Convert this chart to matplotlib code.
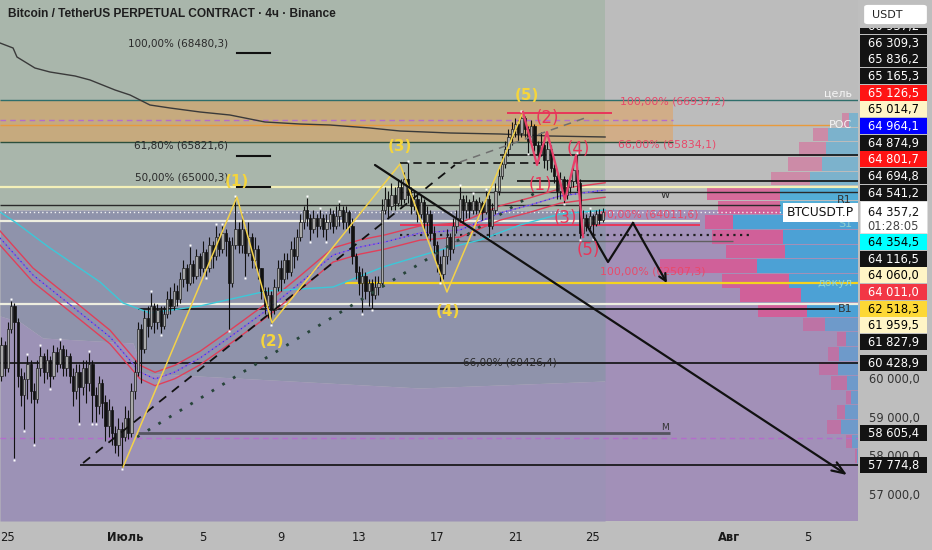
"""
BTCUSDT.P 4h chart: candles, wave count, levels, volume profile
"""
import matplotlib
matplotlib.use('Agg')
from matplotlib import pyplot as plt
from matplotlib.patches import Rectangle, FancyBboxPatch
import numpy as np

W, H = 932, 550

# ---- candles: 4h bars, time in days from 25 June 00:00, first bar 24 June 16:00
bar_start = -2
first_open = 60100
closes = [
    60900, 60300,
    61300, 61900, 61500, 60100, 59600, 60000,
    60400, 59700, 59500, 60300, 60600, 60200,
    60500, 60100, 60700, 60400, 60800, 60300,
    60600, 60100, 59700, 60200, 59800, 60300,
    59900, 60400, 59600, 59300, 59900, 59400,
    58800, 59200, 58600, 58300, 58700, 58500,
    59000, 58600, 59700, 60200, 61300, 60800,
    61600, 61400, 61900, 61500, 61800, 61400,
    61700, 62100, 61900, 62300, 62100, 62600,
    62900, 62500, 63000, 62700, 63200, 62900,
    63300, 62900, 63500, 63200, 63700, 63400,
    63800, 63600, 62500, 63500, 63900, 63500,
    63900, 63300, 63700, 63100, 63400, 62900,
    62300, 61900, 62200, 61800, 62400, 62900,
    62600, 63100, 62800, 63400, 63200, 63700,
    64100, 64400, 64200, 63900, 64200, 64000,
    64200, 63900, 64100, 64300, 64000, 64250,
    64400, 64100, 64350, 64000, 63200, 62800,
    62500, 62700, 62300, 62500, 62200, 62400,
    62500, 64400, 64700, 64500, 64800, 64600,
    65000, 64700, 65200, 64800, 64500, 64700,
    64300, 64600, 64100, 64300, 63800, 63500,
    63000, 62750, 63200, 63700, 63400, 64000,
    64200, 64700, 64400, 64600, 64400, 64650,
    64400, 64600, 64350, 64700, 64000, 64400,
    64900, 65300, 65600, 66000, 66300, 66500,
    66650, 66400, 66800, 66500, 66200, 66600,
    66100, 65850, 66100, 65700, 66000, 65500,
    65300, 64900, 65200, 64800, 65000, 65150,
    65450, 65100, 63800, 64200, 64000, 64250,
    64050, 64300, 64150, 64357.2,
]
highs = [
    61100, 61000,
    61500, 62050, 62000, 61600, 60300, 60200,
    60600, 60500, 59900, 60500, 60850, 60700,
    60800, 60600, 60900, 60850, 61000, 60900,
    60800, 60700, 60300, 60400, 60400, 60500,
    60500, 60700, 60500, 59800, 60100, 60000,
    59600, 59500, 59300, 58800, 59000, 58900,
    59300, 59200, 59900, 60500, 61500, 61450,
    61800, 61900, 62250, 62000, 61950, 61900,
    61900, 62300, 62400, 62500, 62450, 62800,
    63100, 63000, 63440, 63100, 63400, 63300,
    63600, 63400, 63700, 63600, 64000, 63800,
    64000, 63900, 63700, 63700, 64720, 64100,
    64300, 64000, 64100, 63800, 63700, 63500,
    62900, 62400, 62400, 62300, 62600, 63100,
    63100, 63300, 63300, 63600, 63700, 63900,
    64300, 64500, 64720, 64300, 64400, 64300,
    64400, 64300, 64300, 64450, 64400, 64500,
    64580, 64500, 64500, 64400, 64200, 63300,
    62950, 62900, 62800, 62600, 62600, 62700,
    62700, 64700, 65000, 64900, 65100, 65000,
    65200, 65200, 65400, 65630, 65000, 64900,
    64800, 64800, 64700, 64500, 64400, 64000,
    63600, 63200, 63400, 63900, 63800, 64200,
    64400, 65000, 64800, 64800, 64700, 64800,
    64700, 64750, 64650, 64900, 64800, 64600,
    65100, 65500, 65800, 66200, 66500, 66700,
    66800, 66750, 66937, 66850, 66600, 66750,
    66650, 66200, 66430, 66200, 66200, 66100,
    65600, 65400, 65400, 65300, 65200, 65300,
    65600, 65830, 65200, 64400, 64300, 64400,
    64300, 64400, 64420, 64450,
]
lows = [
    59950, 60100,
    60200, 61200, 57950, 59800, 59300, 58700,
    59500, 59400, 58350, 59400, 60100, 59900,
    60000, 59800, 60000, 60200, 60300, 60100,
    60100, 59900, 59300, 59500, 58900, 59600,
    59400, 59700, 58900, 58900, 59100, 59000,
    58400, 58500, 58300, 58100, 58000, 57720,
    58400, 58450, 58500, 59500, 60100, 59900,
    60700, 61100, 61300, 61200, 61300, 61200,
    61300, 61600, 61700, 61800, 61900, 62000,
    62400, 62300, 62450, 62500, 62600, 62700,
    62800, 62700, 62800, 62900, 63100, 63200,
    63300, 63200, 61300, 62400, 63400, 63300,
    63300, 62700, 63200, 62900, 62900, 62600,
    62100, 61700, 61600, 61460, 61700, 62300,
    62300, 62500, 62600, 62700, 62900, 63100,
    63600, 63900, 64000, 63620, 63800, 63700,
    63900, 63700, 63620, 63900, 63800, 63900,
    64000, 63900, 63900, 63800, 63000, 62600,
    62200, 61750, 62100, 61900, 61850, 62100,
    62200, 62400, 64300, 64200, 64400, 64400,
    64500, 64500, 64600, 64600, 64300, 64400,
    64100, 64200, 63900, 63700, 63600, 63300,
    62800, 62560, 62600, 63000, 63100, 63300,
    63800, 64100, 64100, 64200, 64200, 64300,
    64300, 64300, 64150, 64300, 63700, 63900,
    64300, 64800, 65200, 65500, 65800, 66100,
    66300, 66200, 66300, 66300, 65900, 66100,
    65950, 65700, 65800, 65500, 65450, 65400,
    65100, 64700, 64700, 64600, 64700, 64850,
    65000, 64900, 63680, 63700, 63850, 63900,
    63700, 64000, 64050, 64100,
]
current_price = 64357.2
countdown = '01:28:05'

# ---- indicator lines (t in days, price)
vwap_t = [-0.41, 0.26, 0.46, 1.38, 2.15, 3.44, 4.21, 4.72, 5.49, 6.26, 7.28, 8.31,
          9.85, 11.38, 13.18, 14.97, 16.51, 18.56, 20.10, 22.67, 25.23, 27.79, 30.62]
vwap_p = [68747, 68617, 68383, 68097, 67993, 67889, 67785, 67681, 67525, 67395, 67135, 67057,
          66953, 66875, 66693, 66641, 66615, 66537, 66459, 66407, 66381, 66329, 66303]
env_t = [-0.41, 1.28, 3.33, 5.23, 6.77, 7.54, 8.56, 9.85, 11.38, 13.28, 14.97, 16.67,
         18.05, 19.33, 21.13, 23.18, 25.23, 26.77, 28.31, 30.62]
env_mid = [63677, 62715, 61883, 61103, 60193, 60011, 60193, 60557, 61103, 61805, 62507, 63235,
           63443, 63573, 63807, 63885, 64327, 64535, 64769, 64925]
ENV_PCT = 0.0029
ema_t = [-0.41, 0.36, 2.15, 4.72, 5.90, 7.28, 9.85, 13.28, 16.67, 19.23, 22.15, 24.21,
         26.26, 28.31, 30.62]
ema_p = [64353, 64093, 63417, 62533, 61987, 61727, 61909, 62299, 62403, 62923, 63365, 63625,
         64015, 64301, 64405]

# ---- volume profile (row bottoms, sell / buy volume)
vp_row_low = [57830, 58210, 58590, 58970, 59350, 59730, 60110, 60490, 60870, 61250, 61630, 62010,
              62390, 62770, 63150, 63530, 63910, 64290, 64670, 65050, 65430, 65810, 66190, 66570]
vp_sell = [2, 6, 14, 8, 5, 16, 19, 11, 9, 22, 49, 61, 67, 97, 59, 71, 28, 62, 73, 39, 34, 27, 15, 7]
vp_buy = [1, 6, 17, 13, 7, 11, 20, 19, 12, 33, 51, 57, 69, 101, 73, 75, 125, 78, 78, 48, 36, 32, 30, 9]
VP_ROW = 378.5
VA_LOW, VA_HIGH = 61630, 64670

# ---- horizontal levels: price, start, end (days), style
level_price = [67265, 66173, 66745, 66615, 65000.3, 65834.1, 65627, 65165.3, 64874.9, 64541.2,
               64357.2, 64116.5, 64011.6, 63760, 63600, 62507.3, 61959.5, 61827.9, 60428.9,
               58605.4, 58477, 57774.8, 66937.2]
level_t0 = [-0.41, -0.41, -0.41, -0.41, -0.41, 25.23, 20.10, 26.10, 20.10, -0.41,
            -0.41, -0.41, 20.10, 20.10, 22.67, 17.28, -0.41, 6.67, -0.41,
            6.67, -0.41, 3.69, 25.59]
level_t1 = [43.59, 34.10, 34.10, 42.15, 43.59, 43.59, 27.28, 43.59, 43.59, 39.59,
            43.59, 35.49, 35.49, 38.05, 37.18, 43.59, 43.59, 42.41, 43.59,
            33.95, 43.59, 43.59, 30.97]
level_style = ['teal', 'green', 'purple_dash', 'orange', 'cream', 'black', 'black_dash', 'black',
               'dark', 'dark', 'white_dot', 'white', 'red', 'black_dot', 'gray', 'yellow', 'white',
               'black', 'black', 'gray_thick', 'purple_dash', 'black', 'red']
band_low, band_high, band_t1 = 66173, 67265, 34.10

fib_t = [11.74, 13.44]
fib_levels = [68480.3, 65821.6, 65000.3]
fib_texts = ['100,00% (68480,3)', '61,80% (65821,6)', '50,00% (65000,3)']
red_fib_prices = [66937.2, 65834.1, 64011.6, 62507.3]
red_fib_t = [31.38, 31.28, 30.0, 30.36]
red_fib_texts = ['100,00% (66937,2)', '66,00% (65834,1)', '100,00% (64011,6)', '100,00% (62507,3)']

# ---- drawings
wave_t = [5.90, 11.74, 13.54, 20.10, 22.51, 26.41]
wave_p = [57723, 64743, 61467, 65600, 62273, 66953]
wave_names = ['', '(1)', '(2)', '(3)', '(4)', '(5)']
sub_t = [26.41, 27.13, 27.64, 28.56, 29.13, 29.49]
sub_p = [66953, 65575, 66433, 64665, 65835, 63703]
sub_names = ['', '(1)', '(2)', '(3)', '(4)', '(5)']
trend_dash_t, trend_dash_p = [3.85, 22.92], [57827, 65575]
trend_gray_t, trend_gray_p = [23.18, 29.59], [65653, 66797]
trend_dot_t, trend_dot_p = [6.62, 27.28], [58503, 64925]
arrow_t, arrow_p = [18.82, 43.03], [65575, 57515]
proj_t = [29.74, 30.77, 32.05, 33.79]
proj_p = [63963, 63053, 64067, 62507]

# background zones
ZONE_SPLIT_T = 30.62
ZONE_TOP = 64400
boundary_t = [-0.41, 0.62, 1.79, 6.41, 6.92, 21.13, 30.62]
boundary_p = [61649, 61493, 61077, 60947, 60167, 59777, 59959]

# right axis labels
axis_label_prices = [66937.2, 66309.3, 65836.2, 65165.3, 65126.5, 65014.7, 64964.1, 64874.9,
                     64801.7, 64694.8, 64541.2, 64354.5, 64116.5, 64060.0, 64011.0, 62518.3,
                     61959.5, 61827.9, 60428.9, 58605.4, 57774.8]
axis_label_bg = ['#131313', '#131313', '#131313', '#131313', '#ff1414', '#fff5c6', '#0000ff',
                 '#131313', '#ff1414', '#131313', '#131313', '#00ffff', '#131313', '#fff5c6',
                 '#f23645', '#fdd835', '#fff5c6', '#131313', '#131313', '#131313', '#131313']
axis_ticks = [57000, 58000, 59000, 60000]

day_ticks = [0, 6, 10, 14, 18, 22, 26, 30, 37, 41]
day_labels = ['25', 'Июль', '5', '9', '13', '17', '21', '25', 'Авг', '5']

XLIM = (-0.41, 43.59)
YLIM = (56319, 69865)

STYLES = {
    'teal': dict(color='#2f6e6b', lw=1.0),
    'green': dict(color='#2c4f3c', lw=1.0),
    'purple_dash': dict(color='#b46ccc', lw=1.0, ls=(0, (4, 3))),
    'orange': dict(color='#e89a3c', lw=1.0),
    'cream': dict(color='#f4f0b8', lw=1.6),
    'black': dict(color='#101010', lw=1.2),
    'black_dash': dict(color='#101010', lw=1.2, ls=(0, (5, 3))),
    'dark': dict(color='#2a2a2a', lw=1.0),
    'white_dot': dict(color='#f2f2f2', lw=1.0, ls=(0, (1, 2))),
    'white': dict(color='#eeeee0', lw=1.6),
    'red': dict(color='#e8365a', lw=1.4),
    'black_dot': dict(color='#202020', lw=1.6, ls=(0, (1, 2))),
    'gray': dict(color='#606060', lw=1.0),
    'yellow': dict(color='#f5d31e', lw=1.6),
    'gray_thick': dict(color='#555560', lw=2.0),
}


def fx(px):
    return px / W


def fy(py):
    return 1 - py / H


def fmt(p):
    return f'{p:,.1f}'.replace(',', ' ').replace('.', ',')


def main():
    plt.rcParams['font.family'] = ['DejaVu Sans']
    fig = plt.figure(figsize=(W / 100, H / 100), dpi=100, facecolor='#bebebe')
    pos = [0, 29 / H, 858 / W, 521 / H]
    ax_bg = fig.add_axes(pos, zorder=0)
    ax_vp = fig.add_axes(pos, zorder=1)
    ax = fig.add_axes(pos, zorder=2, sharex=ax_bg, sharey=ax_bg)
    for a in (ax_bg, ax_vp):
        a.set_axis_off()
    ax.set_facecolor('none')
    ax_vp.patch.set_alpha(0)
    ax.set_xlim(*XLIM)
    ax.set_ylim(*YLIM)
    ax_vp.set_ylim(*YLIM)
    ax_vp.set_xlim(858, 0)

    # background zones
    ax_bg.add_patch(Rectangle((XLIM[0], ZONE_TOP), ZONE_SPLIT_T - XLIM[0], YLIM[1] - ZONE_TOP,
                              color='#a9b6ab', lw=0))
    ax_bg.add_patch(Rectangle((ZONE_SPLIT_T, ZONE_TOP), XLIM[1] - ZONE_SPLIT_T, YLIM[1] - ZONE_TOP,
                              color='#bcbcbc', lw=0))
    ax_bg.add_patch(Rectangle((ZONE_SPLIT_T, YLIM[0]), XLIM[1] - ZONE_SPLIT_T, ZONE_TOP - YLIM[0],
                              color='#a290b8', lw=0))
    ax_bg.fill_between(boundary_t, boundary_p, ZONE_TOP, color='#8f93ab', lw=0)
    ax_bg.fill_between(boundary_t, YLIM[0], boundary_p, color='#9c92b6', lw=0)
    ax_bg.add_patch(Rectangle((XLIM[0], band_low), band_t1 - XLIM[0], band_high - band_low,
                              color='#f09a40', alpha=0.42, lw=0))
    ax_bg.set_xlim(*XLIM)
    ax_bg.set_ylim(*YLIM)

    # volume profile
    for low, s, b in zip(vp_row_low, vp_sell, vp_buy):
        a = 0.75 if VA_LOW <= low <= VA_HIGH else 0.45
        ax_vp.barh(low, b, left=0, height=VP_ROW * 0.94, align='edge', color='#30a8e0', alpha=a, lw=0)
        ax_vp.barh(low, s, left=b, height=VP_ROW * 0.94, align='edge', color='#e0508f', alpha=a, lw=0)

    # levels
    for p, t0, t1, st in zip(level_price, level_t0, level_t1, level_style):
        ax.plot([t0, t1], [p, p], zorder=3, solid_capstyle='butt', **STYLES[st])
    for p in fib_levels:
        ax.plot(fib_t, [p, p], color='#111111', lw=1.5, zorder=3)
    for p, txt in zip(fib_levels, fib_texts):
        ax.annotate(txt, (fib_t[0], p), xytext=(-9, 10), textcoords='offset pixels',
                    ha='right', va='center', fontsize=7.5, color='#2a2a2a', zorder=8)
    ax.annotate('66,00% (60426,4)', (23.33, 60428.9), ha='left', va='center',
                fontsize=7.5, color='#2a2a2a', zorder=8)
    for p, t0, txt in zip(red_fib_prices, red_fib_t, red_fib_texts):
        ax.annotate(txt, (t0, p), xytext=(0, 11), textcoords='offset pixels',
                    ha='left', va='center', fontsize=7.8, color='#e84a6a', zorder=4)

    # indicators
    ax.plot(vwap_t, vwap_p, color='#3a3a3a', lw=1.0, zorder=4)
    em = np.array(env_mid)
    ax.plot(env_t, em * (1 + ENV_PCT), color='#e0405a', lw=1.0, zorder=4)
    ax.plot(env_t, em * (1 - ENV_PCT), color='#e0405a', lw=1.0, zorder=4)
    ax.plot(env_t, em, color='#9b6ac8', lw=1.0, zorder=4)
    ax.plot(env_t, em, color='#1a2cff', lw=0.8, ls=(0, (1, 3)), zorder=4)
    ax.plot(ema_t, ema_p, color='#3cc8d8', lw=1.0, zorder=4)

    # candles
    c = np.array(closes, dtype=float)
    hi = np.array(highs, dtype=float)
    lo = np.array(lows, dtype=float)
    op = np.r_[first_open, c[:-1]]
    t = (bar_start + np.arange(len(c))) / 6.0
    up = c >= op
    ax.vlines(t, lo, hi, color='#111111', lw=0.8, zorder=5)
    ax.bar(t[up], (c - op)[up], bottom=op[up], width=0.12, color='#a8a8a8',
           edgecolor='#222222', lw=0.5, zorder=6)
    ax.bar(t[~up], (op - c)[~up], bottom=c[~up], width=0.12, color='#111111',
           edgecolor='#111111', lw=0.5, zorder=6)
    top_idx = [i for i in range(2, len(c) - 2) if hi[i] == hi[i - 2:i + 3].max()]
    bot_idx = [i for i in range(2, len(c) - 2) if lo[i] == lo[i - 2:i + 3].min()]
    ax.plot(t[top_idx], hi[top_idx] + 50, 's', ms=1.8, color='white', mec='none', zorder=7)
    ax.plot(t[bot_idx], lo[bot_idx] - 50, 's', ms=1.8, color='white', mec='none', zorder=7)

    # drawings
    ax.plot(trend_dash_t, trend_dash_p, color='#111111', lw=1.3, ls=(0, (5, 4)), zorder=6)
    ax.plot(trend_gray_t, trend_gray_p, color='#707070', lw=1.1, ls=(0, (5, 4)), zorder=6)
    ax.plot(trend_dot_t, trend_dot_p, color='#27443a', lw=2.0, ls=(0, (1, 3.5)), zorder=6)
    ax.plot(wave_t, wave_p, color='#f3d24a', lw=1.1, zorder=7)
    for tt, pp, name, dy, dx in zip(wave_t, wave_p, wave_names, [0, 16, -18, 18, -20, 17],
                                    [0, 0, 0, 0, 1, 4]):
        if name:
            ax.annotate(name, (tt, pp), xytext=(dx, dy), textcoords='offset pixels', ha='center',
                        va='center', fontsize=11, fontweight='bold', color='#f5d53c', zorder=9)
    ax.plot(sub_t, sub_p, color='#e8406a', lw=1.6, zorder=7)
    for tt, pp, name, dy, dx in zip(sub_t, sub_p, sub_names, [0, -20, 14, -18, 6, -13],
                                    [0, 3, 0, 0, 2, 5]):
        if name:
            ax.annotate(name, (tt, pp), xytext=(dx, dy), textcoords='offset pixels', ha='center',
                        va='center', fontsize=12, color='#e8365a', zorder=9)
    ax.annotate('', xy=(arrow_t[1], arrow_p[1]), xytext=(arrow_t[0], arrow_p[0]),
                arrowprops=dict(arrowstyle='->,head_length=0.9,head_width=0.35', lw=1.6,
                                color='#111111', shrinkA=0, shrinkB=0), zorder=8)
    ax.plot(proj_t[:-1], proj_p[:-1], color='#111111', lw=1.6, zorder=8)
    ax.annotate('', xy=(proj_t[-1], proj_p[-1]), xytext=(proj_t[-2], proj_p[-2]),
                arrowprops=dict(arrowstyle='->,head_length=0.5,head_width=0.25', lw=1.6,
                                color='#111111', shrinkA=0, shrinkB=0), zorder=8)

    # small level tags
    xr = XLIM[1]
    tags = [('цель', 67265, 6, '#f4f4f4'), ('POC', 66615, 0, '#f4f4f4'),
            ('R1', 64541.2, 5, '#333333'), ('S1', 64116.5, -3, '#8fd0d0'),
            ('докул', 62507.3, 0, '#8fd8d8'), ('B1', 61827.9, 0, '#333333')]
    for txt, p, dy, col in tags:
        ax.annotate(txt, (xr, p), xytext=(-6, dy), textcoords='offset pixels', ha='right',
                    va='center', fontsize=8, color=col, zorder=9)
    ax.annotate('w', (33.69, 64874.9), xytext=(0, -3), textcoords='offset pixels', ha='center',
                va='center', fontsize=8, color='#333333', zorder=9)
    ax.annotate('M', (33.69, 58605.4), xytext=(0, 6), textcoords='offset pixels', ha='center',
                va='center', fontsize=6.5, color='#333333', zorder=9)

    # axes
    for s in ax.spines.values():
        s.set_visible(False)
    ax.set_xticks(day_ticks)
    ax.set_xticklabels(day_labels)
    for lab in ax.get_xticklabels():
        if not lab.get_text().isdigit():
            lab.set_fontweight('bold')
    ax.tick_params(axis='x', length=0, pad=7, labelsize=8.3, colors='#1a1a1a')
    ax.set_yticks([])

    # price labels on the right axis, stacked like the terminal does
    def ypix(p):
        return H - ax.transData.transform((0, p))[1]

    LH = 16.67
    yc = ypix(current_price)
    placed = []
    edge = yc - 10.7
    above = sorted([i for i, p in enumerate(axis_label_prices) if p > current_price],
                   key=lambda i: axis_label_prices[i])
    for i in above:
        y = min(ypix(axis_label_prices[i]), edge - LH / 2)
        placed.append((i, y))
        edge = y - LH / 2
    edge = yc + 21.7
    below = sorted([i for i, p in enumerate(axis_label_prices) if p < current_price],
                   key=lambda i: -axis_label_prices[i])
    for i in below:
        y = max(ypix(axis_label_prices[i]), edge + LH / 2)
        placed.append((i, y))
        edge = y + LH / 2

    clip = Rectangle((fx(855), fy(521)), fx(80), 493 / H, transform=fig.transFigure)
    boxes = []
    for i, y in placed:
        bg = axis_label_bg[i]
        fg = 'black' if bg in ('#fff5c6', '#00ffff', '#fdd835') else 'white'
        r = Rectangle((fx(860), fy(y + 8)), fx(67), 16 / H, transform=fig.transFigure,
                      facecolor=bg, edgecolor='none', zorder=5)
        fig.add_artist(r)
        r.set_clip_path(clip)
        tx = fig.text(fx(893.5), fy(y + 0.5), fmt(axis_label_prices[i]), ha='center', va='center',
                      fontsize=8.3, color=fg, zorder=6)
        tx.set_clip_path(clip)
        boxes.append((y - 8, y + 8))

    # plain scale values; one running under a price box is cut at the box edge
    for tick in axis_ticks:
        ty = ypix(tick)
        tx = fig.text(fx(869), fy(ty + 0.5), fmt(tick), ha='left', va='center',
                      fontsize=8.3, color='#333333', zorder=4)
        for top, bot in boxes:
            if top - 6 < ty < top + 8:
                cut = Rectangle((fx(855), fy(top)), fx(80), (top - 20) / H,
                                transform=fig.transFigure)
                tx.set_clip_on(True)
                tx.set_clip_path(cut)

    fig.add_artist(Rectangle((fx(860), fy(yc + 21.5)), fx(67), 32 / H, transform=fig.transFigure,
                             facecolor='white', edgecolor='#dddddd', lw=0.6, zorder=5))
    fig.text(fx(893.5), fy(yc + 0.5), fmt(current_price), ha='center', va='center',
             fontsize=8.3, color='#111111', zorder=6)
    fig.text(fx(893.5), fy(yc + 14.5), countdown, ha='center', va='center',
             fontsize=8.3, color='#444444', zorder=6)
    fig.add_artist(Rectangle((fx(783), fy(yc + 10)), fx(75), 19 / H, transform=fig.transFigure,
                             facecolor='white', edgecolor='none', zorder=5))
    fig.text(fx(820.5), fy(yc + 0.5), 'BTCUSDT.P', ha='center', va='center',
             fontsize=8.8, color='#111111', zorder=6)

    fig.add_artist(FancyBboxPatch((fx(866), fy(23)), fx(59), 17 / H,
                                  boxstyle='round,pad=0.002,rounding_size=0.004',
                                  transform=fig.transFigure, facecolor='white',
                                  edgecolor='none', zorder=7))
    fig.text(fx(872), fy(14.5), 'USDT', ha='left', va='center', fontsize=8, color='#222222',
             zorder=8)

    fig.text(fx(8), fy(14), 'Bitcoin / TetherUS PERPETUAL CONTRACT · 4ч · Binance',
             ha='left', va='center', fontsize=8.6, fontweight='bold', color='#1e1e1e',
             family=['Liberation Sans', 'DejaVu Sans'], zorder=8)

    fig.savefig('out.png', dpi=100, facecolor=fig.get_facecolor())


if __name__ == '__main__':
    main()
